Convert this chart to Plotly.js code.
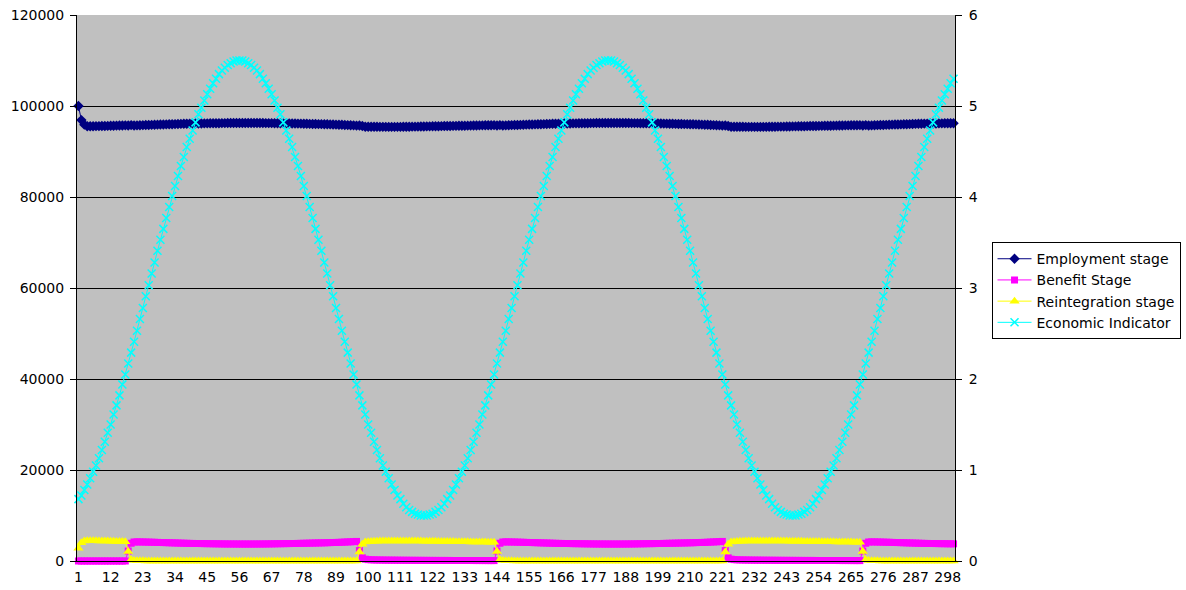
<!DOCTYPE html>
<html>
<head>
<meta charset="utf-8">
<script src="https://cdn.plot.ly/plotly-3.0.1.min.js"></script>
<style>html,body{margin:0;padding:0;background:#fff;}#chart{width:1186px;height:590px;}</style>
</head>
<body>
<div id="chart"></div>
<script>
// Period index (categories)
var periods = [
1,2,3,4,5,6,7,8,9,10,11,12,13,14,15,16,17,18,19,20,
21,22,23,24,25,26,27,28,29,30,31,32,33,34,35,36,37,38,39,40,
41,42,43,44,45,46,47,48,49,50,51,52,53,54,55,56,57,58,59,60,
61,62,63,64,65,66,67,68,69,70,71,72,73,74,75,76,77,78,79,80,
81,82,83,84,85,86,87,88,89,90,91,92,93,94,95,96,97,98,99,100,
101,102,103,104,105,106,107,108,109,110,111,112,113,114,115,116,117,118,119,120,
121,122,123,124,125,126,127,128,129,130,131,132,133,134,135,136,137,138,139,140,
141,142,143,144,145,146,147,148,149,150,151,152,153,154,155,156,157,158,159,160,
161,162,163,164,165,166,167,168,169,170,171,172,173,174,175,176,177,178,179,180,
181,182,183,184,185,186,187,188,189,190,191,192,193,194,195,196,197,198,199,200,
201,202,203,204,205,206,207,208,209,210,211,212,213,214,215,216,217,218,219,220,
221,222,223,224,225,226,227,228,229,230,231,232,233,234,235,236,237,238,239,240,
241,242,243,244,245,246,247,248,249,250,251,252,253,254,255,256,257,258,259,260,
261,262,263,264,265,266,267,268,269,270,271,272,273,274,275,276,277,278,279,280,
281,282,283,284,285,286,287,288,289,290,291,292,293,294,295,296,297,298,299,300];

var tickLabels = [1,12,23,34,45,56,67,78,89,100,111,122,133,144,155,166,177,188,199,210,221,232,243,254,265,276,287,298];

var employmentStage = [
100000,96900,95900,95550,95550,95560,95570,95580,95600,95610,95630,95650,95670,95690,95710,95730,95750,
95700,
95800,95700,95740,95770,95790,95810,95830,95852,95874,95896,
95918,95939,95960,95981,96001,96022,96042,96063,96083,96103,
96124,96134,96144,96154,96165,96175,96185,96195,96205,96215,
96225,96235,96246,96251,96256,96256,96261,96261,96266,96266,
96266,96266,96261,96261,96256,96251,96246,96236,96226,96216,
96206,96196,96186,96176,96166,96156,96146,96131,96116,96101,
96086,96071,96056,96041,96026,96010,95995,95975,95955,95935,
95915,95895,95864,95834,95804,95773,95742,95690,
95700,
95600,95450,95450,95440,95430,95425,95415,95415,95415,95410,
95410,95410,95415,95420,95430,95440,95449,95458,95467,95475,
95488,95501,95514,95527,95540,95552,95564,95576,95588,95600,
95612,95624,95636,95648,95660,95672,95684,95696,95708,95720,
95732,95744,95756,95768,95780,95792,
95700,
95800,95700,95740,95770,95790,95810,95830,95852,95874,95896,
95918,95939,95960,95981,96001,96022,96042,96063,96083,96103,
96124,96134,96144,96154,96165,96175,96185,96195,96205,96215,
96225,96235,96246,96251,96256,96256,96261,96261,96266,
96266,96266,96261,96261,96256,96251,96246,96236,96226,96216,
96206,96196,96186,96176,96166,96156,96146,96131,96116,96101,
96086,96071,96056,96041,96026,96010,95995,95975,95955,95935,
95915,95895,95864,95834,95804,95773,95742,95690,
95700,
95600,95450,95450,95440,95430,95425,95415,95415,95415,95410,
95410,95410,95415,95420,95430,95440,95449,95458,95467,95475,
95488,95501,95514,95527,95540,95552,95564,95576,95588,95600,
95612,95624,95636,95648,95660,95672,95684,95696,95708,95720,
95732,95744,95756,95768,95780,95792,
95700,
95800,95700,95740,95770,95790,95810,95830,95852,95874,95896,
95918,95939,95960,95981,96001,96022,96042,96063,96083,96103,
96124,96134,96144,96154,96165,96175,96185,96195,96205,96215,
96225];

var benefitStage = [
0,0,0,0,0,0,0,0,0,0,0,0,0,0,0,0,0,
2200,
3900,4180,4200,4190,4180,4165,4150,4130,4110,4090,
4070,4050,4030,4010,3990,3970,3950,3930,3910,3890,
3870,3860,3850,3840,3830,3820,3810,3800,3790,3780,
3770,3760,3750,3745,3740,3740,3735,3735,3730,3730,
3730,3730,3735,3735,3740,3745,3750,3760,3770,3780,
3790,3800,3810,3820,3830,3840,3850,3865,3880,3895,
3910,3925,3940,3955,3970,3985,4000,4020,4040,4060,
4080,4100,4130,4160,4190,4220,4250,4300,
2300,
700,400,300,260,240,225,215,205,195,190,
185,180,175,170,165,160,156,152,148,145,
142,139,136,133,130,128,126,124,122,120,
118,116,114,112,110,108,106,104,102,100,
98,96,94,92,90,88,
2200,
3900,4180,4200,4190,4180,4165,4150,4130,4110,4090,
4070,4050,4030,4010,3990,3970,3950,3930,3910,3890,
3870,3860,3850,3840,3830,3820,3810,3800,3790,3780,
3770,3760,3750,3745,3740,3740,3735,3735,3730,
3730,3730,3735,3735,3740,3745,3750,3760,3770,3780,
3790,3800,3810,3820,3830,3840,3850,3865,3880,3895,
3910,3925,3940,3955,3970,3985,4000,4020,4040,4060,
4080,4100,4130,4160,4190,4220,4250,4300,
2300,
700,400,300,260,240,225,215,205,195,190,
185,180,175,170,165,160,156,152,148,145,
142,139,136,133,130,128,126,124,122,120,
118,116,114,112,110,108,106,104,102,100,
98,96,94,92,90,88,
2200,
3900,4180,4200,4190,4180,4165,4150,4130,4110,4090,
4070,4050,4030,4010,3990,3970,3950,3930,3910,3890,
3870,3860,3850,3840,3830,3820,3810,3800,3790,3780,
3770];

var reintegrationStage = [
2800,4000,4400,4450,4450,4440,4430,4420,4400,4390,4370,4350,4330,4310,4290,4270,4250,
2100,
300,120,60,40,30,25,20,18,16,14,
12,11,10,9,9,8,8,7,7,7,
6,6,6,6,5,5,5,5,5,5,
5,5,4,4,4,4,4,4,4,4,
4,4,4,4,4,4,4,4,4,4,
4,4,4,4,4,4,4,4,4,4,
4,4,4,4,4,5,5,5,5,5,
5,5,6,6,6,7,8,10,
2000,
3700,4150,4250,4300,4330,4350,4370,4380,4390,4400,
4405,4410,4410,4410,4405,4400,4395,4390,4385,4380,
4370,4360,4350,4340,4330,4320,4310,4300,4290,4280,
4270,4260,4250,4240,4230,4220,4210,4200,4190,4180,
4170,4160,4150,4140,4130,4120,
2100,
300,120,60,40,30,25,20,18,16,14,
12,11,10,9,9,8,8,7,7,7,
6,6,6,6,5,5,5,5,5,5,
5,5,4,4,4,4,4,4,4,
4,4,4,4,4,4,4,4,4,4,
4,4,4,4,4,4,4,4,4,4,
4,4,4,4,4,5,5,5,5,5,
5,5,6,6,6,7,8,10,
2000,
3700,4150,4250,4300,4330,4350,4370,4380,4390,4400,
4405,4410,4410,4410,4405,4400,4395,4390,4385,4380,
4370,4360,4350,4340,4330,4320,4310,4300,4290,4280,
4270,4260,4250,4240,4230,4220,4210,4200,4190,4180,
4170,4160,4150,4140,4130,4120,
2100,
300,120,60,40,30,25,20,18,16,14,
12,11,10,9,9,8,8,7,7,7,
6,6,6,6,5,5,5,5,5,5,
5];

var economicIndicator = [
0.68,0.72,0.78,0.84,0.91,0.98,1.05,1.13,1.22,1.31,
1.41,1.50,1.61,1.71,1.82,1.94,2.05,2.17,2.29,2.41,
2.53,2.66,2.78,2.91,3.03,3.16,3.28,3.41,3.53,3.65,
3.77,3.89,4.01,4.12,4.23,4.34,4.44,4.55,4.64,4.73,
4.82,4.91,4.98,5.06,5.13,5.19,5.25,5.30,5.35,5.39,
5.42,5.45,5.47,5.49,5.50,5.50,
5.50,5.49,5.47,5.45,5.42,5.39,5.35,5.30,5.25,5.19,
5.13,5.06,4.98,4.91,4.82,4.73,4.64,4.55,4.44,4.34,
4.23,4.12,4.01,3.89,3.77,3.65,3.53,3.41,3.28,3.16,
3.03,2.91,2.78,2.66,2.53,2.41,2.29,2.17,2.05,1.94,
1.82,1.71,1.61,1.50,1.41,1.31,1.22,1.13,1.05,0.98,
0.91,0.84,0.78,0.72,0.68,0.63,0.59,0.56,0.54,0.52,
0.51,0.50,0.50,
0.50,0.51,0.52,0.54,0.56,0.59,0.63,0.68,0.72,0.78,
0.84,0.91,0.98,1.05,1.13,1.22,1.31,1.41,1.50,1.61,
1.71,1.82,1.94,2.05,2.17,2.29,2.41,2.53,2.66,2.78,
2.91,3.03,3.16,3.28,3.41,3.53,3.65,3.77,3.89,4.01,
4.12,4.23,4.34,4.44,4.55,4.64,4.73,4.82,4.91,4.98,
5.06,5.13,5.19,5.25,5.30,5.35,5.39,5.42,5.45,5.47,
5.49,5.50,5.50,
5.50,5.49,5.47,5.45,5.42,5.39,5.35,5.30,5.25,5.19,
5.13,5.06,4.98,4.91,4.82,4.73,4.64,4.55,4.44,4.34,
4.23,4.12,4.01,3.89,3.77,3.65,3.53,3.41,3.28,3.16,
3.03,2.91,2.78,2.66,2.53,2.41,2.29,2.17,2.05,1.94,
1.82,1.71,1.61,1.50,1.41,1.31,1.22,1.13,1.05,0.98,
0.91,0.84,0.78,0.72,0.68,0.63,0.59,0.56,0.54,0.52,
0.51,0.50,0.50,
0.50,0.51,0.52,0.54,0.56,0.59,0.63,0.68,0.72,0.78,
0.84,0.91,0.98,1.05,1.13,1.22,1.31,1.41,1.50,1.61,
1.71,1.82,1.94,2.05,2.17,2.29,2.41,2.53,2.66,2.78,
2.91,3.03,3.16,3.28,3.41,3.53,3.65,3.77,3.89,4.01,
4.12,4.23,4.34,4.44,4.55,4.64,4.73,4.82,4.91,4.98,
5.06,5.13,5.19,5.25,5.30];

var seriesNames = ['Employment stage', 'Benefit Stage', 'Reintegration stage', 'Economic Indicator'];

var FONT = 'DejaVu Sans, Liberation Sans, Arial, sans-serif';

var traces = [
  {
    x: periods, y: employmentStage, name: seriesNames[0], type: 'scatter', mode: 'lines+markers',
    line: {color: '#000080', width: 1},
    marker: {symbol: 'diamond', size: 8, color: '#000080'},
    cliponaxis: false
  },
  {
    x: periods, y: benefitStage, name: seriesNames[1], type: 'scatter', mode: 'lines+markers',
    line: {color: '#FF00FF', width: 1},
    marker: {symbol: 'square', size: 7, color: '#FF00FF'},
    cliponaxis: false
  },
  {
    x: periods, y: reintegrationStage, name: seriesNames[2], type: 'scatter', mode: 'lines+markers',
    line: {color: '#FFFF00', width: 1},
    marker: {symbol: 'triangle-up', size: 9, color: '#FFFF00'},
    cliponaxis: false
  },
  {
    x: periods, y: economicIndicator, name: seriesNames[3], type: 'scatter', mode: 'lines+markers',
    yaxis: 'y2',
    line: {color: '#00FFFF', width: 1},
    marker: {symbol: 'x-thin', size: 8, color: '#00FFFF', line: {color: '#00FFFF', width: 1.5}},
    cliponaxis: false
  }
];

var layout = {
  width: 1186, height: 590,
  margin: {l: 77, r: 231, t: 15, b: 29, pad: 0, autoexpand: false},
  paper_bgcolor: '#FFFFFF',
  plot_bgcolor: '#C0C0C0',
  font: {family: FONT, size: 14, color: '#000000'},
  showlegend: true,
  legend: {
    x: 1.0416, xanchor: 'left', y: 0.584, yanchor: 'top',
    bordercolor: '#000000', borderwidth: 1, bgcolor: '#FFFFFF',
    font: {family: FONT, size: 14, color: '#000000'},
    traceorder: 'normal', itemwidth: 34, tracegroupgap: 0
  },
  xaxis: {
    type: 'category', tickvals: tickLabels, ticktext: tickLabels.map(String),
    range: [-0.5, 299.5], showgrid: false, zeroline: false,
    showline: true, linecolor: '#000000', linewidth: 1,
    ticks: 'outside', ticklen: 3, tickcolor: 'rgba(0,0,0,0)', tickangle: 0,
    tickfont: {family: FONT, size: 14, color: '#000000'}
  },
  yaxis: {
    range: [0, 120000], tick0: 0, dtick: 20000, tickformat: 'd',
    showgrid: true, gridcolor: '#000000', gridwidth: 1, zeroline: false,
    showline: true, linecolor: '#000000', linewidth: 1,
    ticks: 'outside', ticklen: 6, tickcolor: '#000000', tickwidth: 1,
    ticklabelstandoff: 3,
    tickfont: {family: FONT, size: 14, color: '#000000'}
  },
  yaxis2: {
    range: [0, 6], tick0: 0, dtick: 1, overlaying: 'y', side: 'right',
    showgrid: false, zeroline: false,
    showline: true, linecolor: '#000000', linewidth: 1,
    ticks: 'outside', ticklen: 6, tickcolor: '#000000', tickwidth: 1,
    ticklabelstandoff: 4,
    tickfont: {family: FONT, size: 14, color: '#000000'}
  }
};

Plotly.newPlot('chart', traces, layout, {staticPlot: true, displayModeBar: false});
</script>
</body>
</html>
